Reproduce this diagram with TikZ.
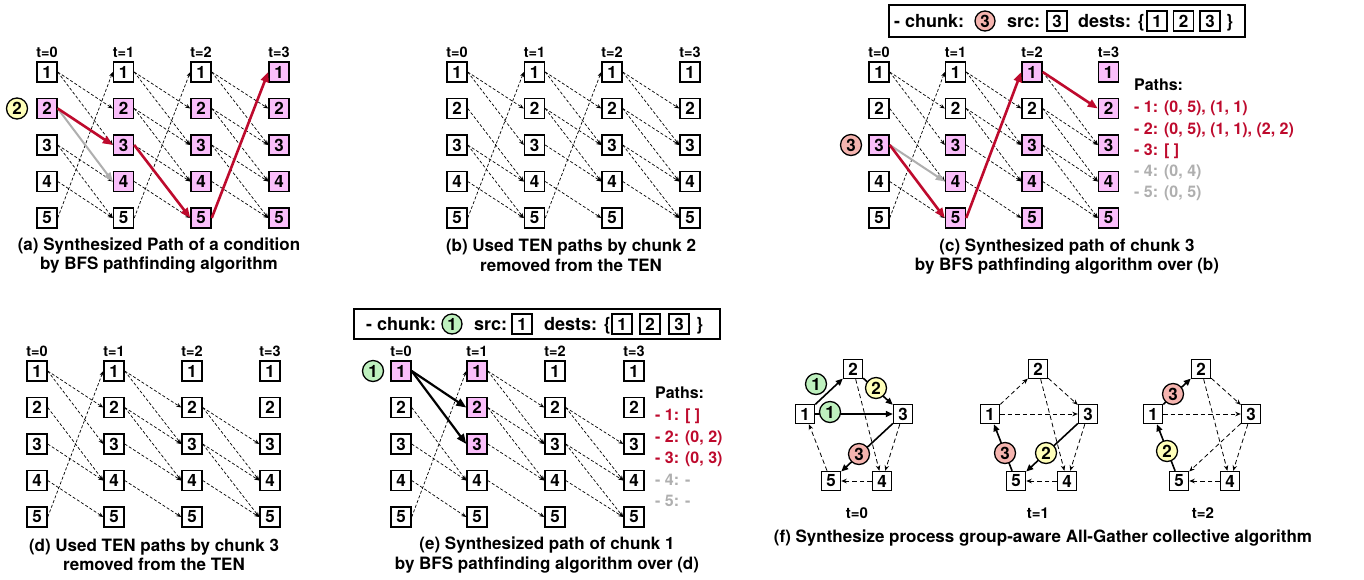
\documentclass[tikz,border=0pt]{standalone}
\usepackage{fontspec}
\setmainfont{TeX Gyre Heros}
\usetikzlibrary{arrows.meta}
\definecolor{pinkc}{RGB}{250,190,250}
\definecolor{redc}{RGB}{190,10,45}
\definecolor{yelc}{RGB}{255,255,185}
\definecolor{grnc}{RGB}{190,240,190}
\definecolor{salc}{RGB}{245,180,175}
\definecolor{grayc}{RGB}{175,175,175}
\tikzset{
  tbox/.style={draw, line width=1.45pt, minimum size=20pt, inner sep=0pt, font=\bfseries\fontsize{17}{17}\selectfont},
  bw/.style={fill=white},
  bp/.style={fill=pinkc},
  fbox/.style={tbox, fill=white, minimum size=19pt},
  tlab/.style={font=\bfseries\fontsize{14.5}{14.5}\selectfont, inner sep=0pt},
  captxt/.style={font=\bfseries\fontsize{17}{19.5}\selectfont, align=center, inner sep=0pt},
  ptxt/.style={font=\bfseries\fontsize{16}{16}\selectfont, anchor=base west, inner sep=0pt},
  ttxt/.style={font=\bfseries\fontsize{18}{18}\selectfont, anchor=base west, inner sep=0pt},
  chk/.style={circle, draw, line width=1.3pt, minimum size=21pt, inner sep=0pt, font=\bfseries\fontsize{17}{17}\selectfont},
  dedge/.style={line width=0.7pt, dash pattern=on 3pt off 2pt, -{Stealth[length=5pt,width=4pt]}},
  redge/.style={line width=2.6pt, redc, -{Triangle[length=10pt,width=8pt]}},
  gedge/.style={line width=2pt, grayc, -{Triangle[length=9pt,width=7pt]}},
  bedge/.style={line width=2.2pt, -{Triangle[length=10pt,width=8pt]}},
  fsolid/.style={line width=1.6pt, -{Triangle[length=7pt,width=6pt]}},
  fdash/.style={line width=0.8pt, dash pattern=on 4.5pt off 3pt, -{Stealth[length=5.5pt,width=4.5pt]}},
}
% prefix, t, x, y of first row, fills of rows 1..5
\newcommand\tencol[9]{%
  \node[tlab] (#1-l#2) at (#3,#4-20) {t=#2};
  \node[tbox,#5] (#1-#2-1) at (#3,#4) {1};
  \node[tbox,#6] (#1-#2-2) at (#3,#4+36.5) {2};
  \node[tbox,#7] (#1-#2-3) at (#3,#4+73) {3};
  \node[tbox,#8] (#1-#2-4) at (#3,#4+109.5) {4};
  \node[tbox,#9] (#1-#2-5) at (#3,#4+146) {5};
}
\newcommand\tenedges[4]{%
  \foreach \sa/\sb in {#4}{\draw[dedge] (#1-#2-\sa.east) -- (#1-#3-\sb.west);}%
}
\newcommand\fpent[3]{%
  \node[fbox] (#1-2) at (#2,#3) {2};
  \node[fbox] (#1-1) at (#2-48,#3+45) {1};
  \node[fbox] (#1-3) at (#2+50,#3+45) {3};
  \node[fbox] (#1-5) at (#2-22,#3+112) {5};
  \node[fbox] (#1-4) at (#2+29,#3+112) {4};
}
\begin{document}
\begin{tikzpicture}[x=1pt,y=-1pt]
\fill[white] (0,0) rectangle (1364,579);
\useasboundingbox (0,0) rectangle (1364,579);

% ---------- (a)
\tencol{a}{0}{47}{72}{bw}{bp}{bw}{bw}{bw}
\tencol{a}{1}{123.5}{72}{bw}{bp}{bp}{bp}{bw}
\tencol{a}{2}{201}{72}{bw}{bp}{bp}{bp}{bp}
\tencol{a}{3}{279}{72}{bp}{bp}{bp}{bp}{bp}
\tenedges{a}{0}{1}{1/2,1/3,3/4,3/5,4/5,5/1}
\tenedges{a}{1}{2}{1/2,1/3,2/3,2/4,3/4,4/5,5/1}
\tenedges{a}{2}{3}{1/2,1/3,2/3,2/4,3/4,3/5,4/5}
\draw[gedge] (a-0-2.east) -- (a-1-4.west);
\draw[redge] (a-0-2.east) -- (a-1-3.west);
\draw[redge] (a-1-3.east) -- (a-2-5.west);
\draw[redge] (a-2-5.east) -- (a-3-1.west);
\node[chk, fill=yelc] (a-chunk) at (17,108.5) {2};
\node[captxt] (a-cap) at (159,255.5) {(a) Synthesized Path of a condition\\by BFS pathfinding algorithm};

% ---------- (b)
\tencol{b}{0}{457}{72}{bw}{bw}{bw}{bw}{bw}
\tencol{b}{1}{534.5}{72}{bw}{bw}{bw}{bw}{bw}
\tencol{b}{2}{612}{72}{bw}{bw}{bw}{bw}{bw}
\tencol{b}{3}{690}{72}{bw}{bw}{bw}{bw}{bw}
\tenedges{b}{0}{1}{1/2,1/3,2/4,3/4,3/5,4/5,5/1}
\tenedges{b}{1}{2}{1/2,1/3,2/3,2/4,3/4,4/5,5/1}
\tenedges{b}{2}{3}{1/2,1/3,2/3,2/4,3/4,3/5,4/5}
\node[captxt] (b-cap) at (571,255.5) {(b) Used TEN paths by chunk 2\\removed from the TEN};

% ---------- (c)
\node[draw, line width=1.45pt, minimum width=356pt, minimum height=32pt, inner sep=0pt] (c-top) at (1067,21) {};
\node[ttxt] (c-tchunk) at (894,27.5) {- chunk:};
\node[chk, fill=salc, minimum size=20pt] (c-tcirc) at (985,21) {3};
\node[ttxt] (c-tsrc) at (1007,27.5) {src:};
\node[tbox] (c-tsrcb) at (1057,21) {3};
\node[ttxt] (c-tdst) at (1078,27.5) {dests: \{};
\node[tbox] (c-td1) at (1157,21) {1};
\node[tbox] (c-td2) at (1183.5,21) {2};
\node[tbox] (c-td3) at (1210,21) {3};
\node[ttxt] (c-tcl) at (1226,27.5) {\}};
\tencol{c}{0}{879}{72}{bw}{bw}{bp}{bw}{bw}
\tencol{c}{1}{955.5}{72}{bw}{bw}{bp}{bp}{bp}
\tencol{c}{2}{1032}{72}{bp}{bw}{bp}{bp}{bp}
\tencol{c}{3}{1108.5}{72}{bp}{bp}{bp}{bp}{bp}
\tenedges{c}{0}{1}{1/2,1/3,2/4,4/5,5/1}
\tenedges{c}{1}{2}{1/2,1/3,2/3,2/4,3/4,4/5}
\tenedges{c}{2}{3}{1/3,2/3,2/4,3/4,3/5,4/5}
\draw[gedge] (c-0-3.east) -- (c-1-4.west);
\draw[redge] (c-0-3.east) -- (c-1-5.west);
\draw[redge] (c-1-5.east) -- (c-2-1.west);
\draw[redge] (c-2-1.east) -- (c-3-2.west);
\node[chk, fill=salc] (c-chunk) at (851,145) {3};
\node[ptxt] (c-p0) at (1134,90.5) {Paths:};
\node[ptxt, text=redc] (c-p1) at (1134,112.5) {- 1: (0, 5), (1, 1)};
\node[ptxt, text=redc] (c-p2) at (1134,134) {- 2: (0, 5), (1, 1), (2, 2)};
\node[ptxt, text=redc] (c-p3) at (1134,155.5) {- 3: [ ]};
\node[ptxt, text=grayc] (c-p4) at (1134,176.5) {- 4: (0, 4)};
\node[ptxt, text=grayc] (c-p5) at (1134,197.5) {- 5: (0, 5)};
\node[captxt] (c-cap) at (1067,256.5) {(c) Synthesized path of chunk 3\\by BFS pathfinding algorithm over (b)};

% ---------- (d)
\tencol{d}{0}{37}{371}{bw}{bw}{bw}{bw}{bw}
\tencol{d}{1}{114}{371}{bw}{bw}{bw}{bw}{bw}
\tencol{d}{2}{192}{371}{bw}{bw}{bw}{bw}{bw}
\tencol{d}{3}{270}{371}{bw}{bw}{bw}{bw}{bw}
\tenedges{d}{0}{1}{1/2,1/3,2/4,3/4,4/5,5/1}
\tenedges{d}{1}{2}{1/2,1/3,2/3,2/4,3/4,4/5}
\tenedges{d}{2}{3}{2/3,2/4,3/4,3/5,4/5}
\node[captxt] (d-cap) at (154,555) {(d) Used TEN paths by chunk 3\\removed from the TEN};

% ---------- (e)
\node[draw, line width=1.45pt, minimum width=366pt, minimum height=30pt, inner sep=0pt] (e-top) at (537,324) {};
\node[ttxt] (e-tchunk) at (366,330.5) {- chunk:};
\node[chk, fill=grnc, minimum size=20pt] (e-tcirc) at (452,324) {1};
\node[ttxt] (e-tsrc) at (474,330.5) {src:};
\node[tbox] (e-tsrcb) at (522,324) {1};
\node[ttxt] (e-tdst) at (544,330.5) {dests: \{};
\node[tbox] (e-td1) at (622,324) {1};
\node[tbox] (e-td2) at (650,324) {2};
\node[tbox] (e-td3) at (679,324) {3};
\node[ttxt] (e-tcl) at (696,330.5) {\}};
\tencol{e}{0}{401}{371}{bp}{bw}{bw}{bw}{bw}
\tencol{e}{1}{477}{371}{bp}{bp}{bp}{bw}{bw}
\tencol{e}{2}{555}{371}{bw}{bw}{bw}{bw}{bw}
\tencol{e}{3}{634}{371}{bw}{bw}{bw}{bw}{bw}
\tenedges{e}{0}{1}{2/4,3/4,4/5,5/1}
\tenedges{e}{1}{2}{1/2,1/3,2/3,2/4,3/4,4/5}
\tenedges{e}{2}{3}{2/3,2/4,3/4,3/5,4/5}
\draw[bedge] (e-0-1.east) -- (e-1-2.west);
\draw[bedge] (e-0-1.east) -- (e-1-3.west);
\node[chk, fill=grnc] (e-chunk) at (373,371) {1};
\node[ptxt] (e-p0) at (655,398.5) {Paths:};
\node[ptxt, text=redc] (e-p1) at (655,420.5) {- 1: [ ]};
\node[ptxt, text=redc] (e-p2) at (655,442) {- 2: (0, 2)};
\node[ptxt, text=redc] (e-p3) at (655,463.5) {- 3: (0, 3)};
\node[ptxt, text=grayc] (e-p4) at (655,485) {- 4: -};
\node[ptxt, text=grayc] (e-p5) at (655,506.5) {- 5: -};
\node[captxt] (e-cap) at (547,555) {(e) Synthesized path of chunk 1\\by BFS pathfinding algorithm over (d)};

% ---------- (f)
\fpent{fa}{853}{369}
\fpent{fb}{1038}{369}
\fpent{fc}{1201}{369}
% t=0
\draw[fdash] (fa-2) -- (fa-4);
\draw[fdash] (fa-3) -- (fa-4);
\draw[fdash] (fa-4) -- (fa-5);
\draw[fdash] (fa-5) -- (fa-1);
\draw[fsolid] (fa-1) -- (fa-2);
\draw[fsolid] (fa-1) -- (fa-3);
\draw[fsolid] (fa-2) -- (fa-3);
\draw[fsolid] (fa-3) -- (fa-5);
\node[chk, fill=grnc] (fa-c1) at (816,384) {1};
\node[chk, fill=grnc] (fa-c1b) at (830,412) {1};
\node[chk, fill=yelc] (fa-c2) at (876,388) {2};
\node[chk, fill=salc] (fa-c3) at (859,454) {3};
\node[tlab, font=\bfseries\fontsize{15}{15}\selectfont] (fa-lab) at (857,513) {t=0};
% t=1
\draw[fdash] (fb-1) -- (fb-2);
\draw[fdash] (fb-1) -- (fb-3);
\draw[fdash] (fb-2) -- (fb-3);
\draw[fdash] (fb-2) -- (fb-4);
\draw[fdash] (fb-3) -- (fb-4);
\draw[fdash] (fb-4) -- (fb-5);
\draw[fsolid] (fb-5) -- (fb-1);
\draw[fsolid] (fb-3) -- (fb-5);
\node[chk, fill=salc] (fb-c3) at (1005,453) {3};
\node[chk, fill=yelc] (fb-c2) at (1046,453) {2};
\node[tlab, font=\bfseries\fontsize{15}{15}\selectfont] (fb-lab) at (1038,513) {t=1};
% t=2
\draw[fdash] (fc-1) -- (fc-3);
\draw[fdash] (fc-2) -- (fc-3);
\draw[fdash] (fc-2) -- (fc-4);
\draw[fdash] (fc-3) -- (fc-4);
\draw[fdash] (fc-3) -- (fc-5);
\draw[fdash] (fc-4) -- (fc-5);
\draw[fsolid] (fc-1) -- (fc-2);
\draw[fsolid] (fc-5) -- (fc-1);
\node[chk, fill=salc] (fc-c3) at (1173,394) {3};
\node[chk, fill=yelc] (fc-c2) at (1167,451) {2};
\node[tlab, font=\bfseries\fontsize{15}{15}\selectfont] (fc-lab) at (1203,513) {t=2};
\node[captxt] (f-cap) at (1043,538) {(f) Synthesize process group-aware All-Gather collective algorithm};
\end{tikzpicture}
\end{document}
